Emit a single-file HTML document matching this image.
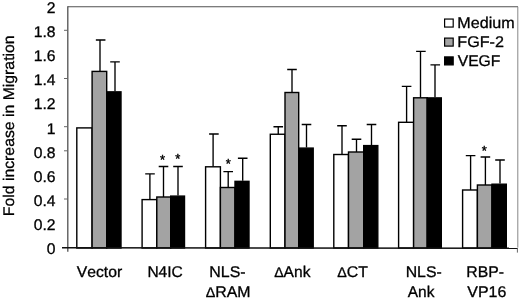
<!DOCTYPE html>
<html><head><meta charset="utf-8"><title>chart</title>
<style>html,body{margin:0;padding:0;background:#fff;}body{width:520px;height:300px;overflow:hidden;}svg{display:block;}text{font-family:"Liberation Sans",sans-serif;fill:#000;stroke:#000;stroke-width:0.3px;font-kerning:none;text-rendering:geometricPrecision;}</style>
</head><body>
<svg style="filter:blur(0.35px)" width="520" height="300" viewBox="0 0 520 300">
<rect x="0" y="0" width="520" height="300" fill="#fff"/>
<path d="M67.8 6.8 H518.0" fill="none" stroke="#505050" stroke-width="1.1"/>
<path d="M517.8 6.8 V247.6" fill="none" stroke="#888" stroke-width="1"/>
<path d="M100.0 40 V71.4 M95.85 40 H105.45" stroke="#000" stroke-width="1.35" fill="none"/>
<path d="M115 61.8 V91.25 M110.20 61.8 H119.80" stroke="#000" stroke-width="1.35" fill="none"/>
<path d="M149.9 173.8 V199.6 M145.20 173.8 H154.80" stroke="#000" stroke-width="1.35" fill="none"/>
<path d="M163.5 166.5 V197 M158.70 166.5 H168.30" stroke="#000" stroke-width="1.35" fill="none"/>
<path d="M178 166.5 V195.5 M173.20 166.5 H182.80" stroke="#000" stroke-width="1.35" fill="none"/>
<path d="M213.1 134 V166.8 M209.10 134 H218.70" stroke="#000" stroke-width="1.35" fill="none"/>
<path d="M228.2 171.6 V187.5 M223.40 171.6 H233.00" stroke="#000" stroke-width="1.35" fill="none"/>
<path d="M242.7 158.2 V180.75 M237.90 158.2 H247.50" stroke="#000" stroke-width="1.35" fill="none"/>
<path d="M278.25 126.75 V134.25 M273.45 126.75 H283.05" stroke="#000" stroke-width="1.35" fill="none"/>
<path d="M292.0 69.5 V92.5 M287.20 69.5 H296.80" stroke="#000" stroke-width="1.35" fill="none"/>
<path d="M306.5 124.5 V147.5 M301.70 124.5 H311.30" stroke="#000" stroke-width="1.35" fill="none"/>
<path d="M342 125.75 V154.5 M337.20 125.75 H346.80" stroke="#000" stroke-width="1.35" fill="none"/>
<path d="M356.5 139.25 V152 M351.70 139.25 H361.30" stroke="#000" stroke-width="1.35" fill="none"/>
<path d="M371.5 124.5 V145 M366.70 124.5 H376.30" stroke="#000" stroke-width="1.35" fill="none"/>
<path d="M406.6 86.3 V122.3 M401.80 86.3 H411.40" stroke="#000" stroke-width="1.35" fill="none"/>
<path d="M420.5 51.3 V97.8 M416.10 51.3 H425.70" stroke="#000" stroke-width="1.35" fill="none"/>
<path d="M435.0 64.8 V97.3 M430.45 64.8 H440.05" stroke="#000" stroke-width="1.35" fill="none"/>
<path d="M470.6 155.6 V190 M465.80 155.6 H475.40" stroke="#000" stroke-width="1.35" fill="none"/>
<path d="M485.4 157 V185 M480.60 157 H490.20" stroke="#000" stroke-width="1.35" fill="none"/>
<path d="M500 160 V183.6 M495.20 160 H504.80" stroke="#000" stroke-width="1.35" fill="none"/>
<rect x="76.8" y="127.9" width="15.299999999999997" height="120.1" fill="#ffffff" stroke="#000" stroke-width="1.4"/>
<rect x="92.1" y="71.4" width="14.600000000000009" height="176.6" fill="#a3a3a3" stroke="#000" stroke-width="1.4"/>
<rect x="106.7" y="91.85" width="14.299999999999997" height="156.15" fill="#000000" stroke="#000" stroke-width="1.4"/>
<rect x="142.1" y="199.6" width="14.700000000000017" height="48.400000000000006" fill="#ffffff" stroke="#000" stroke-width="1.4"/>
<rect x="156.8" y="197" width="13.899999999999977" height="51" fill="#a3a3a3" stroke="#000" stroke-width="1.4"/>
<rect x="170.7" y="196.1" width="13.800000000000011" height="51.900000000000006" fill="#000000" stroke="#000" stroke-width="1.4"/>
<rect x="205.6" y="166.8" width="14.800000000000011" height="81.19999999999999" fill="#ffffff" stroke="#000" stroke-width="1.4"/>
<rect x="220.4" y="187.5" width="14.599999999999994" height="60.5" fill="#a3a3a3" stroke="#000" stroke-width="1.4"/>
<rect x="235.0" y="181.35" width="14.0" height="66.65" fill="#000000" stroke="#000" stroke-width="1.4"/>
<rect x="270.3" y="134.25" width="14.699999999999989" height="113.75" fill="#ffffff" stroke="#000" stroke-width="1.4"/>
<rect x="285" y="92.5" width="13.699999999999989" height="155.5" fill="#a3a3a3" stroke="#000" stroke-width="1.4"/>
<rect x="298.7" y="148.1" width="14.5" height="99.9" fill="#000000" stroke="#000" stroke-width="1.4"/>
<rect x="333.8" y="154.5" width="14.699999999999989" height="93.5" fill="#ffffff" stroke="#000" stroke-width="1.4"/>
<rect x="348.5" y="152" width="15.199999999999989" height="96" fill="#a3a3a3" stroke="#000" stroke-width="1.4"/>
<rect x="363.7" y="145.6" width="14.100000000000023" height="102.4" fill="#000000" stroke="#000" stroke-width="1.4"/>
<rect x="398.6" y="122.3" width="15.0" height="125.7" fill="#ffffff" stroke="#000" stroke-width="1.4"/>
<rect x="413.6" y="97.8" width="13.599999999999966" height="150.2" fill="#a3a3a3" stroke="#000" stroke-width="1.4"/>
<rect x="427.2" y="97.89999999999999" width="14.100000000000023" height="150.10000000000002" fill="#000000" stroke="#000" stroke-width="1.4"/>
<rect x="462.6" y="190" width="14.799999999999955" height="58" fill="#ffffff" stroke="#000" stroke-width="1.4"/>
<rect x="477.4" y="185" width="14.600000000000023" height="63" fill="#a3a3a3" stroke="#000" stroke-width="1.4"/>
<rect x="492" y="184.2" width="14.300000000000011" height="63.80000000000001" fill="#000000" stroke="#000" stroke-width="1.4"/>
<path d="M67.8 6.3 V251.79999999999998" stroke="#505050" stroke-width="1.3" fill="none"/>
<path d="M62.0 247.8 L518.0 248.2" stroke="#111" stroke-width="1.5" fill="none"/>
<path d="M517.4 248 V252.6" stroke="#666" stroke-width="1" fill="none"/>
<text transform="translate(55.5,254.25) scale(1.02,1)" font-size="15.4" text-anchor="end">0</text>
<text transform="translate(55.5,230.10) scale(1.02,1)" font-size="15.4" text-anchor="end">0.2</text>
<path d="M64.0 199.00 H67.8" stroke="#666" stroke-width="1"/>
<text transform="translate(55.5,205.96) scale(1.02,1)" font-size="15.4" text-anchor="end">0.4</text>
<text transform="translate(55.5,181.81) scale(1.02,1)" font-size="15.4" text-anchor="end">0.6</text>
<path d="M64.0 150.80 H67.8" stroke="#666" stroke-width="1"/>
<text transform="translate(55.5,157.67) scale(1.02,1)" font-size="15.4" text-anchor="end">0.8</text>
<path d="M64.0 126.70 H67.8" stroke="#666" stroke-width="1"/>
<text transform="translate(55.5,133.53) scale(1.02,1)" font-size="15.4" text-anchor="end">1</text>
<text transform="translate(55.5,109.38) scale(1.02,1)" font-size="15.4" text-anchor="end">1.2</text>
<path d="M64.0 78.50 H67.8" stroke="#666" stroke-width="1"/>
<text transform="translate(55.5,85.24) scale(1.02,1)" font-size="15.4" text-anchor="end">1.4</text>
<text transform="translate(55.5,61.09) scale(1.02,1)" font-size="15.4" text-anchor="end">1.6</text>
<path d="M64.0 30.30 H67.8" stroke="#666" stroke-width="1"/>
<text transform="translate(55.5,36.94) scale(1.02,1)" font-size="15.4" text-anchor="end">1.8</text>
<text transform="translate(55.5,12.80) scale(1.02,1)" font-size="15.4" text-anchor="end">2</text>
<text transform="translate(14.4,216.2) rotate(-90) scale(1.026,1)" font-size="15.4" id="ytitle">Fold increase in Migration</text>
<text transform="translate(76.69,277.2) scale(1.0140,1)" font-size="15.5">Vector</text>
<text transform="translate(147.38,277.2) scale(1.0002,1)" font-size="15.5">N4IC</text>
<text transform="translate(209.35,277.2) scale(1.0278,1)" font-size="15.5">NLS-</text>
<text transform="translate(205.66,296.7) scale(1.0244,1)" font-size="15.5"><tspan font-size="14">&#916;</tspan>RAM</text>
<text transform="translate(274.18,277.2) scale(1.0049,1)" font-size="15.5"><tspan font-size="14">&#916;</tspan>Ank</text>
<text transform="translate(337.18,277.2) scale(1.0205,1)" font-size="15.5"><tspan font-size="14">&#916;</tspan>CT</text>
<text transform="translate(405.68,277.2) scale(1.0205,1)" font-size="15.5">NLS-</text>
<text transform="translate(407.75,296.7) scale(0.9984,1)" font-size="15.5">Ank</text>
<text transform="translate(466.35,277.2) scale(1.0198,1)" font-size="15.5">RBP-</text>
<text transform="translate(467.25,296.8) scale(1.0306,1)" font-size="15.5">VP16</text>
<text transform="translate(457.34,27.8) scale(1.0392,1)" font-size="15.5">Medium</text>
<text transform="translate(457.32,46.7) scale(1.0423,1)" font-size="15.5">FGF-2</text>
<text transform="translate(457.69,65.9) scale(1.0123,1)" font-size="15.5">VEGF</text>
<rect x="444.6" y="19.05" width="8.6" height="8" fill="#ffffff" stroke="#000" stroke-width="1.2"/>
<rect x="444.6" y="38.099999999999994" width="8.6" height="8" fill="#a3a3a3" stroke="#000" stroke-width="1.2"/>
<rect x="444.6" y="56.9" width="8.6" height="8" fill="#000000" stroke="#000" stroke-width="1.2"/>
<text x="162.5" y="163.9" font-size="13" text-anchor="middle" style="stroke-width:0.4px">*</text>
<text x="177.7" y="163.20000000000002" font-size="13" text-anchor="middle" style="stroke-width:0.4px">*</text>
<text x="228.4" y="167.8" font-size="13" text-anchor="middle" style="stroke-width:0.4px">*</text>
<text x="484.2" y="154.6" font-size="13" text-anchor="middle" style="stroke-width:0.4px">*</text>
</svg></body></html>
